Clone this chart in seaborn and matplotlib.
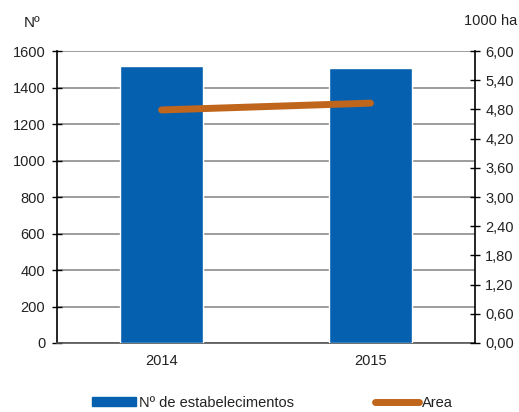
import matplotlib
matplotlib.use("Agg")
import matplotlib.pyplot as plt
import seaborn as sns
import pandas as pd
from matplotlib.lines import Line2D
from matplotlib.patches import Patch

years = ["2014", "2015"]
estabelecimentos = [1520, 1505]
area_mil_ha = [4.79, 4.93]

left_ticks = [0, 200, 400, 600, 800, 1000, 1200, 1400, 1600]
right_ticks = [0.0, 0.6, 1.2, 1.8, 2.4, 3.0, 3.6, 4.2, 4.8, 5.4, 6.0]

BLUE = "#0561B0"
ORANGE = "#C0651C"

sns.set_theme(style="white")
plt.rcParams["font.family"] = ["Liberation Sans", "DejaVu Sans"]
FS = 10.5

df = pd.DataFrame({"ano": years, "n": estabelecimentos, "area": area_mil_ha})

fig = plt.figure(figsize=(5.19, 4.12), dpi=100)
ax = fig.add_axes([0.110, 0.1675, 0.805, 0.7085])

sns.barplot(data=df, x="ano", y="n", color=BLUE, saturation=1, width=0.395, ax=ax, zorder=3)
ax.set_xlim(-0.5, 1.5)
ax.set_ylim(0, 1600)
ax.set_yticks(left_ticks)
ax.set_yticklabels([str(v) for v in left_ticks], fontsize=FS, color="#222222")
ax.set_xlabel("")
ax.set_ylabel("")
ax.tick_params(axis="x", length=0, labelsize=FS, labelcolor="#222222", pad=8)
ax.tick_params(axis="y", direction="inout", length=7, width=1, color="black", pad=5)
ax.yaxis.grid(True, color="#8c8c8c", linewidth=1.2, zorder=0)
ax.set_axisbelow(True)
for s in ["top", "right"]:
    ax.spines[s].set_visible(False)
ax.spines["left"].set_color("black")
ax.spines["left"].set_linewidth(1.2)
ax.spines["bottom"].set_color("#555555")
ax.spines["bottom"].set_linewidth(1.2)

ax2 = ax.twinx()
sns.lineplot(data=df, x="ano", y="area", color=ORANGE, linewidth=5, ax=ax2,
             solid_capstyle="round", zorder=4)
ax2.set_ylim(0, 6)
ax2.set_yticks(right_ticks)
ax2.set_yticklabels([f"{v:.2f}".replace(".", ",") for v in right_ticks],
                    fontsize=FS, color="#222222")
ax2.set_ylabel("")
ax2.set_xlim(-0.5, 1.5)
ax2.tick_params(axis="y", direction="inout", length=7, width=1, color="black", pad=4)
for s in ["top", "left", "bottom"]:
    ax2.spines[s].set_visible(False)
ax2.spines["right"].set_color("black")
ax2.spines["right"].set_linewidth(1.2)
ax2.grid(False)

fig.text(0.045, 0.945, "Nº", fontsize=FS + 0.5, ha="left", va="center", color="#222222")
fig.text(0.997, 0.948, "1000 ha", fontsize=FS, ha="right", va="center", color="#222222")

handles = [Patch(facecolor=BLUE, edgecolor=BLUE),
           Line2D([0], [0], color=ORANGE, linewidth=5)]
labels = ["Nº de estabelecimentos", "Area"]
fig.legend(handles, labels, loc="center", bbox_to_anchor=(0.525, 0.022), ncol=2,
           frameon=False, fontsize=FS, handlelength=3.0, handleheight=0.55,
           handletextpad=0.2, columnspacing=5.6, labelcolor="#222222")

fig.savefig("out.png", dpi=100)
